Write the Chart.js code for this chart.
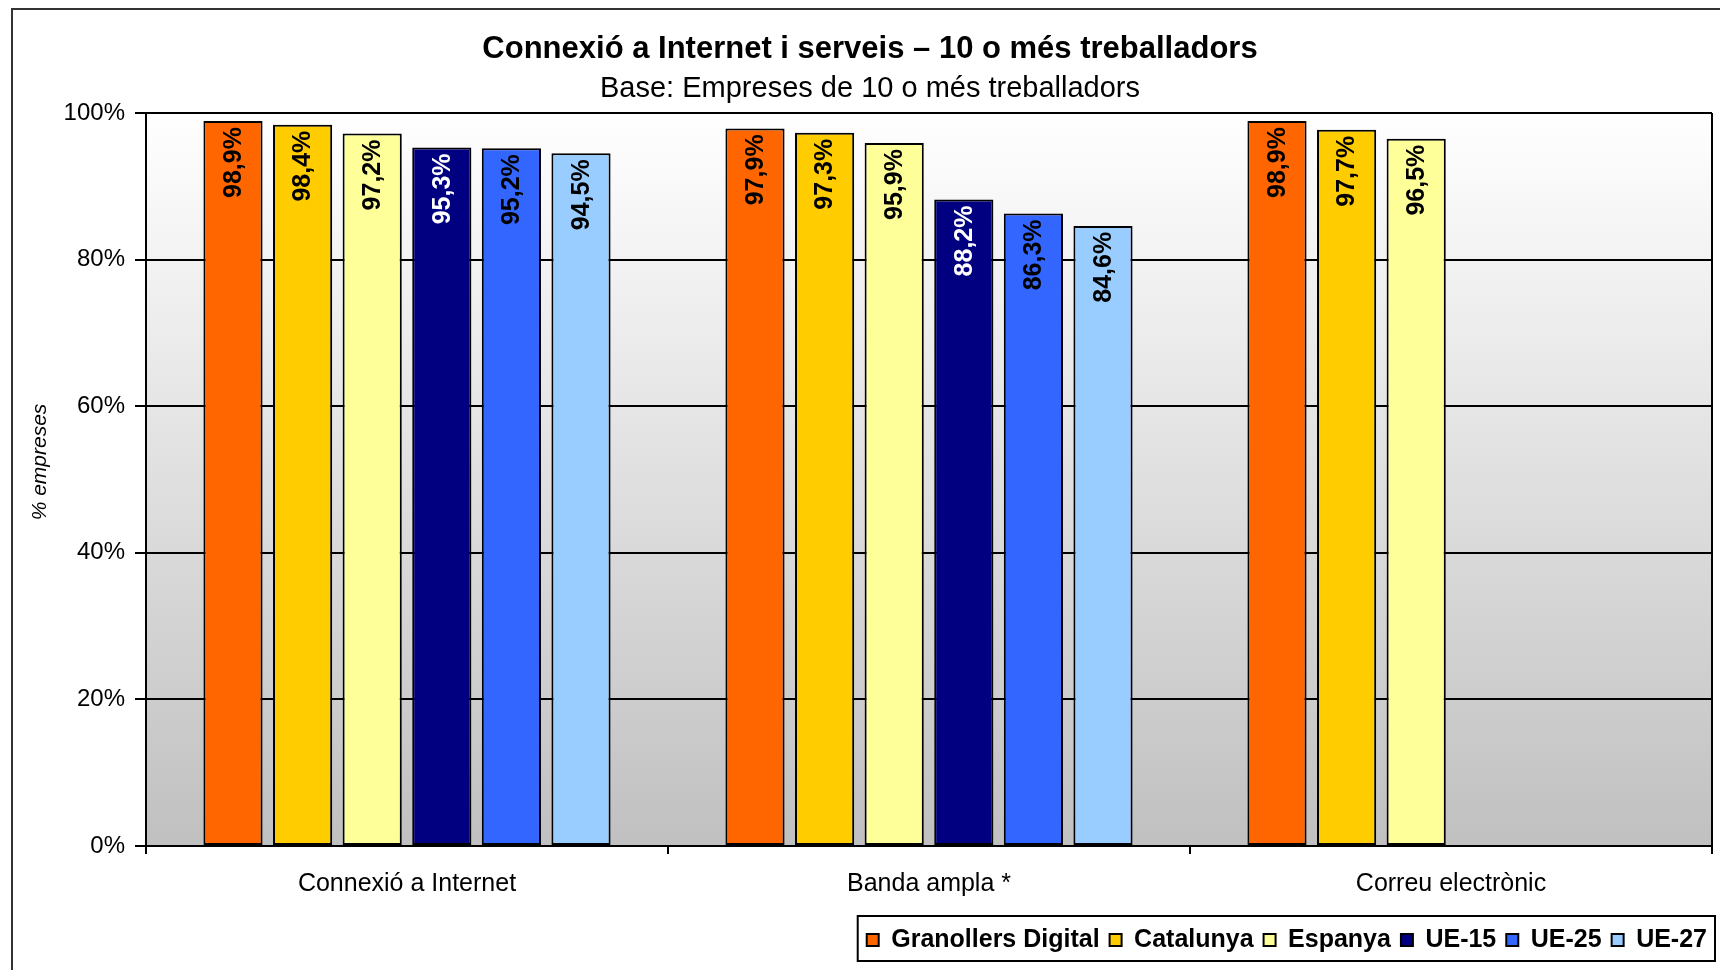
<!DOCTYPE html>
<html><head><meta charset="utf-8">
<script src="https://cdn.jsdelivr.net/npm/chart.js@4/dist/chart.umd.min.js"></script>
<style>html,body{margin:0;padding:0;background:#fff;overflow:hidden}</style>
</head><body>
<canvas id="c" width="1720" height="970"></canvas>
<script>
const categories = ['Connexió a Internet', 'Banda ampla *', 'Correu electrònic'];
const seriesNames = ['Granollers Digital', 'Catalunya', 'Espanya', 'UE-15', 'UE-25', 'UE-27'];
const granollers = [98.9, 97.9, 98.9];
const catalunya = [98.4, 97.3, 97.7];
const espanya = [97.2, 95.9, 96.5];
const ue15 = [95.3, 88.2, null];
const ue25 = [95.2, 86.3, null];
const ue27 = [94.5, 84.6, null];
const yTickLabels = ['0%', '20%', '40%', '60%', '80%', '100%'];
const seriesColors = ['#FF6600', '#FFCC00', '#FFFF99', '#000080', '#3366FF', '#99CCFF'];
const labelColors = ['#000', '#000', '#000', '#fff', '#000', '#000'];

const FONT = "'Liberation Sans', Arial, Helvetica, sans-serif";
const seriesValues = [granollers, catalunya, espanya, ue15, ue25, ue27];

const decorPlugin = {
  id: 'decor',
  afterLayout(chart) {
    chart.legend.right = 1717;
  },
  beforeDraw(chart) {
    const {ctx, chartArea: a} = chart;
    ctx.save();
    const g = ctx.createLinearGradient(0, a.top, 0, a.bottom);
    g.addColorStop(0, '#ffffff');
    g.addColorStop(1, '#c0c0c0');
    ctx.fillStyle = g;
    ctx.fillRect(a.left, a.top, a.right - a.left, a.bottom - a.top);
    ctx.strokeStyle = '#333';
    ctx.lineWidth = 2;
    ctx.strokeRect(12, 9, 3000, 3000);
    ctx.restore();
  },
  afterDatasetsDraw(chart) {
    const {ctx} = chart;
    ctx.save();
    ctx.font = 'bold 25px ' + FONT;
    ctx.textAlign = 'right';
    ctx.textBaseline = 'middle';
    chart.data.datasets.forEach((ds, di) => {
      const meta = chart.getDatasetMeta(di);
      meta.data.forEach((el, i) => {
        const v = ds.data[i];
        if (v === null || v === undefined) return;
        ctx.save();
        ctx.translate(el.x, el.y + 6);
        ctx.rotate(-Math.PI / 2);
        ctx.fillStyle = labelColors[di];
        ctx.fillText(v.toFixed(1).replace('.', ',') + '%', 0, 1);
        ctx.restore();
      });
    });
    ctx.restore();
  },
  afterDraw(chart) {
    const {ctx, chartArea: a} = chart;
    ctx.save();
    ctx.strokeStyle = '#000';
    ctx.lineWidth = 2;
    ctx.beginPath();
    ctx.moveTo(a.right, a.top);
    ctx.lineTo(a.right, a.bottom);
    ctx.stroke();
    const lg = chart.legend;
    const firstX = lg.right - lg.lineWidths[0];
    ctx.strokeRect(firstX - 9, 916, 1715 - (firstX - 9), 45);
    ctx.restore();
  }
};

new Chart(document.getElementById('c'), {
  type: 'bar',
  data: {
    labels: categories,
    datasets: seriesNames.map((name, i) => ({
      label: name,
      data: seriesValues[i],
      backgroundColor: seriesColors[i],
      borderColor: '#000',
      borderWidth: 2,
      borderSkipped: false,
      barPercentage: 0.85,
      categoryPercentage: 0.8
    }))
  },
  options: {
    responsive: false,
    animation: false,
    devicePixelRatio: 1,
    layout: {padding: {left: 28, right: 8, top: 0, bottom: 7.5}},
    plugins: {
      tooltip: {enabled: false},
      title: {
        display: true,
        text: 'Connexió a Internet i serveis – 10 o més treballadors',
        color: '#000',
        font: {family: FONT, size: 31, weight: 'bold', lineHeight: 1.2},
        padding: {top: 31, bottom: 0}
      },
      subtitle: {
        display: true,
        text: 'Base: Empreses de 10 o més treballadors',
        color: '#000',
        font: {family: FONT, size: 29, weight: 'normal', lineHeight: 1.2},
        padding: {top: 3.6, bottom: 6.4}
      },
      legend: {
        position: 'bottom',
        align: 'end',
        labels: {
          color: '#000',
          font: {family: FONT, size: 25, weight: 'bold'},
          boxWidth: 12,
          boxHeight: 12,
          padding: 10
        }
      }
    },
    scales: {
      x: {
        offset: true,
        grid: {offset: true, drawOnChartArea: false, drawTicks: true, tickLength: 8, color: '#000', lineWidth: 2},
        border: {display: true, color: '#000', width: 2},
        ticks: {color: '#000', font: {family: FONT, size: 25}, padding: 15, maxRotation: 0, autoSkip: false},
        afterFit(scale) { scale.height = 71.5; }
      },
      y: {
        min: 0,
        max: 100,
        ticks: {
          stepSize: 20,
          color: '#000',
          font: {family: FONT, size: 24},
          padding: 10,
          callback: (v, i) => yTickLabels[i]
        },
        grid: {color: '#000', lineWidth: 2, tickLength: 11, drawTicks: true},
        border: {display: true, color: '#000', width: 2},
        title: {
          display: true,
          text: '      % empreses',
          color: '#000',
          font: {family: FONT, size: 21, style: 'italic', lineHeight: 1.2},
          padding: {top: 0, bottom: 0}
        },
        afterFit(scale) { scale.width = 118; }
      }
    }
  },
  plugins: [decorPlugin]
});
</script>
</body></html>
